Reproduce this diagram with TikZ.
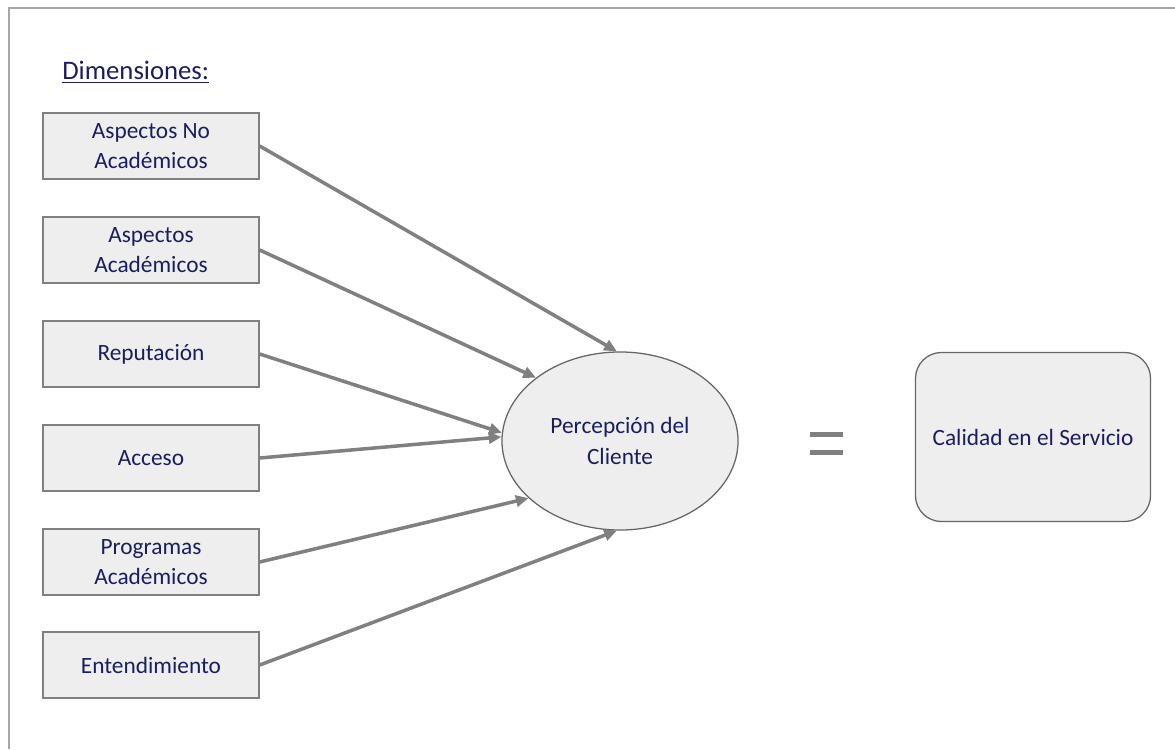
\documentclass[tikz,border=0pt]{standalone}
\usepackage{fontspec}
\setmainfont{Carlito}
\usepackage{tikz}
\usetikzlibrary{arrows.meta,positioning,shapes.geometric}

\definecolor{txtblue}{RGB}{26,30,96}
\definecolor{linegray}{RGB}{128,128,128}
\definecolor{boxfill}{RGB}{238,238,238}

\tikzset{
  dimbox/.style={draw=linegray,fill=boxfill,line width=0.9pt,minimum width=5.4cm,
    minimum height=1.65cm,align=center,text=txtblue,font=\fontsize{16.6}{21.5}\selectfont},
  dimarrow/.style={draw=linegray,line width=2.5pt,-{Triangle[length=9pt,width=8pt]}}
}

\begin{document}
\begin{tikzpicture}[x=0.025cm,y=-0.025cm]
		
		\useasboundingbox (0,0) rectangle (1175,749);
		
		% Frame
		\draw[color=linegray!70,line width=1pt] (1175,8) -- (9,8) -- (9,749);
		
		% Title
		\node[anchor=base west,inner sep=0pt,text=txtblue,font=\fontsize{19}{23}\selectfont]
		(title) at (62,80) {\underline{Dimensiones:}};
		
		% Dimensions
		\node[dimbox] (b1) at (151,146) {Aspectos No\\Académicos};
		\node[dimbox] (b2) at (151,250) {Aspectos\\Académicos};
		\node[dimbox] (b3) at (151,354) {Reputación};
		\node[dimbox] (b4) at (151,458) {Acceso};
		\node[dimbox] (b5) at (151,562) {Programas\\Académicos};
		\node[dimbox] (b6) at (151,665) {Entendimiento};
		
		% Customer perception
		\node[ellipse,draw=linegray!80!black,fill=boxfill,line width=0.9pt,
		minimum width=5.9cm,minimum height=4.45cm,align=center,text=txtblue,
		font=\fontsize{16.6}{21.5}\selectfont] (per) at (620,441) {Percepción del\\Cliente};
		
		% Arrows into the ellipse
		\draw[dimarrow] (b1.east) -- (per.92);
		\draw[dimarrow] (b2.east) -- (per.143);
		\draw[dimarrow] (b3.east) -- (per.176);
		\draw[dimarrow] (b4.east) -- (per.178);
		\draw[dimarrow] (b5.east) -- (per.212);
		\draw[dimarrow] (b6.east) -- (per.268);
		
		% Equals sign
		\fill[linegray] (810,432) rectangle (843,437);
		\fill[linegray] (810,450) rectangle (843,455);
		
		% Result
		\node[draw=linegray!80!black,fill=boxfill,line width=0.9pt,rounded corners=0.65cm,
		minimum width=5.875cm,minimum height=4.225cm,align=center,text=txtblue,
		font=\fontsize{16.6}{21.5}\selectfont] (cal) at (1033,437) {Calidad en el Servicio};
		
	\end{tikzpicture}
\end{document}
